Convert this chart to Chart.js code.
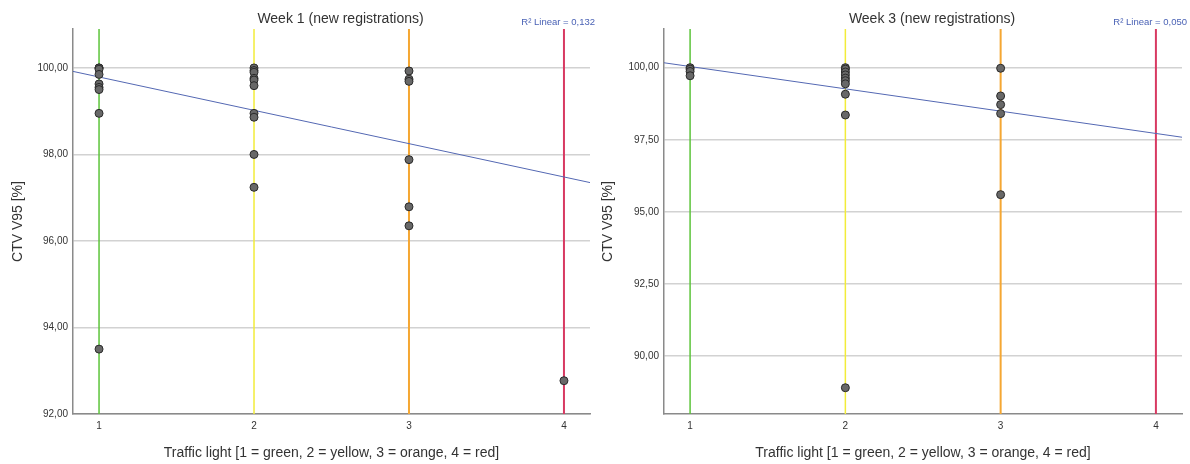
<!DOCTYPE html>
<html><head><meta charset="utf-8">
<script src="https://cdn.jsdelivr.net/npm/chart.js@4/dist/chart.umd.min.js"></script>
<style>
body{margin:0;background:#fff;}
.w{position:absolute;top:0;width:595px;height:464px;}
</style>
</head><body>
<div class="w" style="left:0"><canvas id="c1" width="595" height="464"></canvas></div>
<div class="w" style="left:595px"><canvas id="c2" width="595" height="464"></canvas></div>
<script>
// ---- data ----
const trafficLevels = [1, 2, 3, 4];
const xTickLabels = ['1', '2', '3', '4'];
const xRange = [0.832, 4.168];

// Week 1
const week1Title = 'Week 1 (new registrations)';
const week1R2 = 'R² Linear = 0,132';
const week1X = [1,1,1,1,1,1,1,1,1, 2,2,2,2,2,2,2,2,2,2, 3,3,3,3,3,3, 4];
const week1Y = [100,100,99.97,99.85,99.63,99.55,99.5,98.95,93.5,
                100,99.94,99.9,99.76,99.72,99.59,98.95,98.86,98.0,97.24,
                99.93,99.74,99.69,97.88,96.79,96.35,
                92.77];
const week1Fit = [99.92, 97.35];
const week1YTicks = [92, 94, 96, 98, 100];
const week1YRange = [92, 100.9];

// Week 3
const week3Title = 'Week 3 (new registrations)';
const week3R2 = 'R² Linear = 0,050';
const week3X = [1,1,1,1, 2,2,2,2,2,2,2,2,2,2, 3,3,3,3,3];
const week3Y = [100,99.95,99.87,99.72,
                100,99.95,99.85,99.75,99.64,99.55,99.44,99.08,98.36,88.91,
                99.98,99.02,98.72,98.41,95.6];
const week3Fit = [100.17, 97.59];
const week3YTicks = [90, 92.5, 95, 97.5, 100];
const week3YRange = [88, 101.34];

const yTitle = 'CTV V95 [%]';
const xTitle = 'Traffic light [1 = green, 2 = yellow, 3 = orange, 4 = red]';

// ---- styles ----
const FONT = '"Liberation Sans", Arial, sans-serif';
const levelColors = ['#5cc43a', '#f2ec3a', '#f5a733', '#d83a62'];
const levelWidths = [1.5, 1.5, 2, 2];

const titlePlugin = {
  id: 'titles',
  afterDraw(chart, args, opts) {
    const ctx = chart.ctx, a = chart.chartArea;
    ctx.save();
    ctx.fillStyle = '#333';
    ctx.font = '14px ' + FONT;
    ctx.textAlign = 'center';
    ctx.textBaseline = 'middle';
    ctx.fillText(opts.title, (a.left + a.right) / 2 + 9, 19);
    ctx.fillStyle = '#4a62b5';
    ctx.font = '9.5px ' + FONT;
    ctx.textAlign = 'right';
    ctx.fillText(opts.r2, a.right + 5, 22);
    ctx.restore();
  }
};

function makeChart(id, xs, ys, fit, yTicks, yRange, title, r2, yAxisWidth, padRight, yTitlePad) {
  const points = xs.map((x, i) => ({x: x, y: ys[i]}));
  const datasets = [{
    type: 'scatter',
    data: points,
    pointRadius: 4,
    pointBackgroundColor: '#686868',
    pointBorderColor: '#2a2a2a',
    pointBorderWidth: 1,
    order: 0
  }, {
    type: 'line',
    data: [{x: xRange[0], y: fit[0]}, {x: xRange[1], y: fit[1]}],
    borderColor: '#5468b3',
    borderWidth: 1,
    pointRadius: 0,
    order: 1
  }];
  trafficLevels.forEach((lv, i) => {
    datasets.push({
      type: 'line',
      data: [{x: lv, y: yRange[0]}, {x: lv, y: yRange[1]}],
      borderColor: levelColors[i],
      borderWidth: levelWidths[i],
      pointRadius: 0,
      order: 2
    });
  });
  return new Chart(document.getElementById(id), {
    type: 'scatter',
    data: {datasets},
    options: {
      responsive: false,
      animation: false,
      events: [],
      layout: {padding: {left: 0, top: 29, right: padRight, bottom: 0}},
      plugins: {
        legend: {display: false},
        tooltip: {enabled: false},
        titles: {title: title, r2: r2}
      },
      scales: {
        x: {
          type: 'linear',
          min: xRange[0], max: xRange[1],
          afterBuildTicks: s => { s.ticks = trafficLevels.map(v => ({value: v})); },
          afterFit: s => { s.height = 50; },
          grid: {display: false},
          border: {display: true, color: '#8a8a8a', width: 1.5},
          ticks: {
            padding: -2,
            color: '#333',
            font: {family: FONT, size: 10},
            callback: (v) => xTickLabels[trafficLevels.indexOf(v)]
          },
          title: {
            display: true, text: xTitle, color: '#333',
            font: {family: FONT, size: 14},
            padding: {top: 0, bottom: 2}
          }
        },
        y: {
          type: 'linear',
          min: yRange[0], max: yRange[1],
          afterBuildTicks: s => { s.ticks = yTicks.map(v => ({value: v})); },
          afterFit: s => { s.width = yAxisWidth; },
          grid: {color: '#d2d2d2', lineWidth: 1.6, drawTicks: false},
          border: {display: true, color: '#8a8a8a', width: 1.5},
          ticks: {
            padding: 5,
            color: '#333',
            font: {family: FONT, size: 10},
            callback: v => v.toFixed(2).replace('.', ',')
          },
          title: {
            display: true, text: yTitle, color: '#333',
            font: {family: FONT, size: 14},
            padding: {top: yTitlePad, bottom: 0}
          }
        }
      }
    },
    plugins: [titlePlugin]
  });
}

makeChart('c1', week1X, week1Y, week1Fit, week1YTicks, week1YRange, week1Title, week1R2, 73, 5, 10);
makeChart('c2', week3X, week3Y, week3Fit, week3YTicks, week3YRange, week3Title, week3R2, 69, 8, 5);
</script>
</body></html>
